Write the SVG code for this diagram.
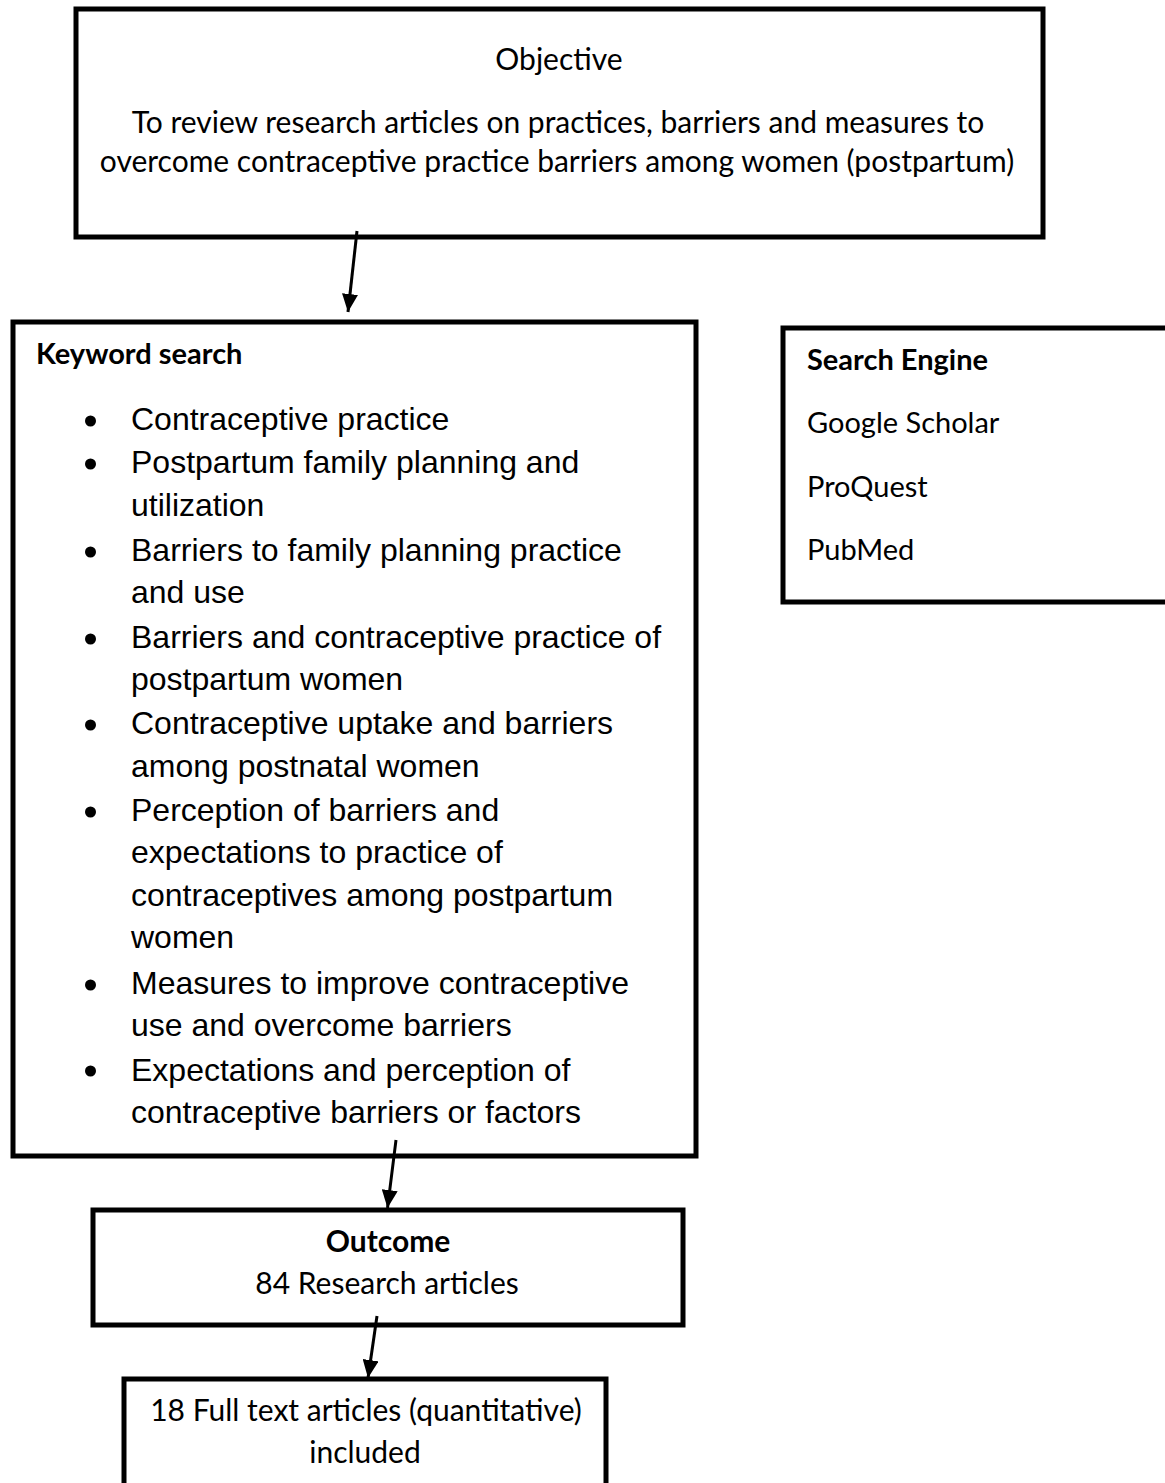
<svg xmlns="http://www.w3.org/2000/svg" width="1165" height="1483" viewBox="0 0 1165 1483">
<style>
.box{fill:#fff;stroke:#000;stroke-width:5}
.c{font-family:Lato,"Liberation Sans",sans-serif;font-size:30px;fill:#000}
.s{font-size:29px}
.b{font-weight:bold}
.m{text-anchor:middle}
.a{font-family:"Liberation Sans",Arial,sans-serif;font-size:32px;fill:#000}
.ln{stroke:#000;stroke-width:3;fill:none}
</style>
<defs>
<marker id="ah" markerWidth="18" markerHeight="16" refX="18" refY="8" orient="auto" markerUnits="userSpaceOnUse" viewBox="0 0 18 16">
<path d="M0,0 L18,8 L0,16 z" fill="#000"/>
</marker>
</defs>
<rect width="1165" height="1483" fill="#fff"/>
<g id="objective">
<rect class="box" x="76" y="9" width="967" height="228"/>
<text class="c m" x="559" y="70">Objective</text>
<text class="c m" x="558" y="133">To review research articles on practices, barriers and measures to</text>
<text class="c m" x="557" y="172">overcome contraceptive practice barriers among women (postpartum)</text>
</g>
<g id="keyword">
<rect class="box" x="13" y="322" width="683" height="834"/>
<text class="c b s" x="36" y="364">Keyword search</text>
<g fill="#000">
<circle cx="90.5" cy="421" r="5.5"/>
<circle cx="90.5" cy="464" r="5.5"/>
<circle cx="90.5" cy="552" r="5.5"/>
<circle cx="90.5" cy="639" r="5.5"/>
<circle cx="90.5" cy="725" r="5.5"/>
<circle cx="90.5" cy="812" r="5.5"/>
<circle cx="90.5" cy="985" r="5.5"/>
<circle cx="90.5" cy="1071" r="5.5"/>
</g>
<text class="a" x="131" y="430">Contraceptive practice</text>
<text class="a" x="131" y="473">Postpartum family planning and</text>
<text class="a" x="131" y="516">utilization</text>
<text class="a" x="131" y="561">Barriers to family planning practice</text>
<text class="a" x="131" y="603">and use</text>
<text class="a" x="131" y="648">Barriers and contraceptive practice of</text>
<text class="a" x="131" y="690">postpartum women</text>
<text class="a" x="131" y="734">Contraceptive uptake and barriers</text>
<text class="a" x="131" y="777">among postnatal women</text>
<text class="a" x="131" y="821">Perception of barriers and</text>
<text class="a" x="131" y="863">expectations to practice of</text>
<text class="a" x="131" y="906">contraceptives among postpartum</text>
<text class="a" x="131" y="948">women</text>
<text class="a" x="131" y="994">Measures to improve contraceptive</text>
<text class="a" x="131" y="1036">use and overcome barriers</text>
<text class="a" x="131" y="1081">Expectations and perception of</text>
<text class="a" x="131" y="1123">contraceptive barriers or factors</text>
</g>
<g id="search-engine">
<rect class="box" x="783" y="328" width="400" height="274"/>
<text class="c b s" x="807" y="370">Search Engine</text>
<text class="c s" x="807" y="433">Google Scholar</text>
<text class="c s" x="807" y="497">ProQuest</text>
<text class="c s" x="807" y="560">PubMed</text>
</g>
<g id="outcome">
<rect class="box" x="93" y="1210" width="590" height="115"/>
<text class="c b m" x="388" y="1252">Outcome</text>
<text class="c m" x="387" y="1294">84 Research articles</text>
</g>
<g id="included">
<rect class="box" x="124" y="1379" width="482" height="130"/>
<text class="c m" x="366" y="1421">18 Full text articles (quantitative)</text>
<text class="c m" x="365" y="1463">included</text>
</g>
<g id="connectors">
<line class="ln" x1="357" y1="231" x2="348" y2="312" marker-end="url(#ah)"/>
<line class="ln" x1="396" y1="1140" x2="387.5" y2="1208" marker-end="url(#ah)"/>
<line class="ln" x1="377" y1="1316" x2="368" y2="1378" marker-end="url(#ah)"/>
</g>
</svg>
